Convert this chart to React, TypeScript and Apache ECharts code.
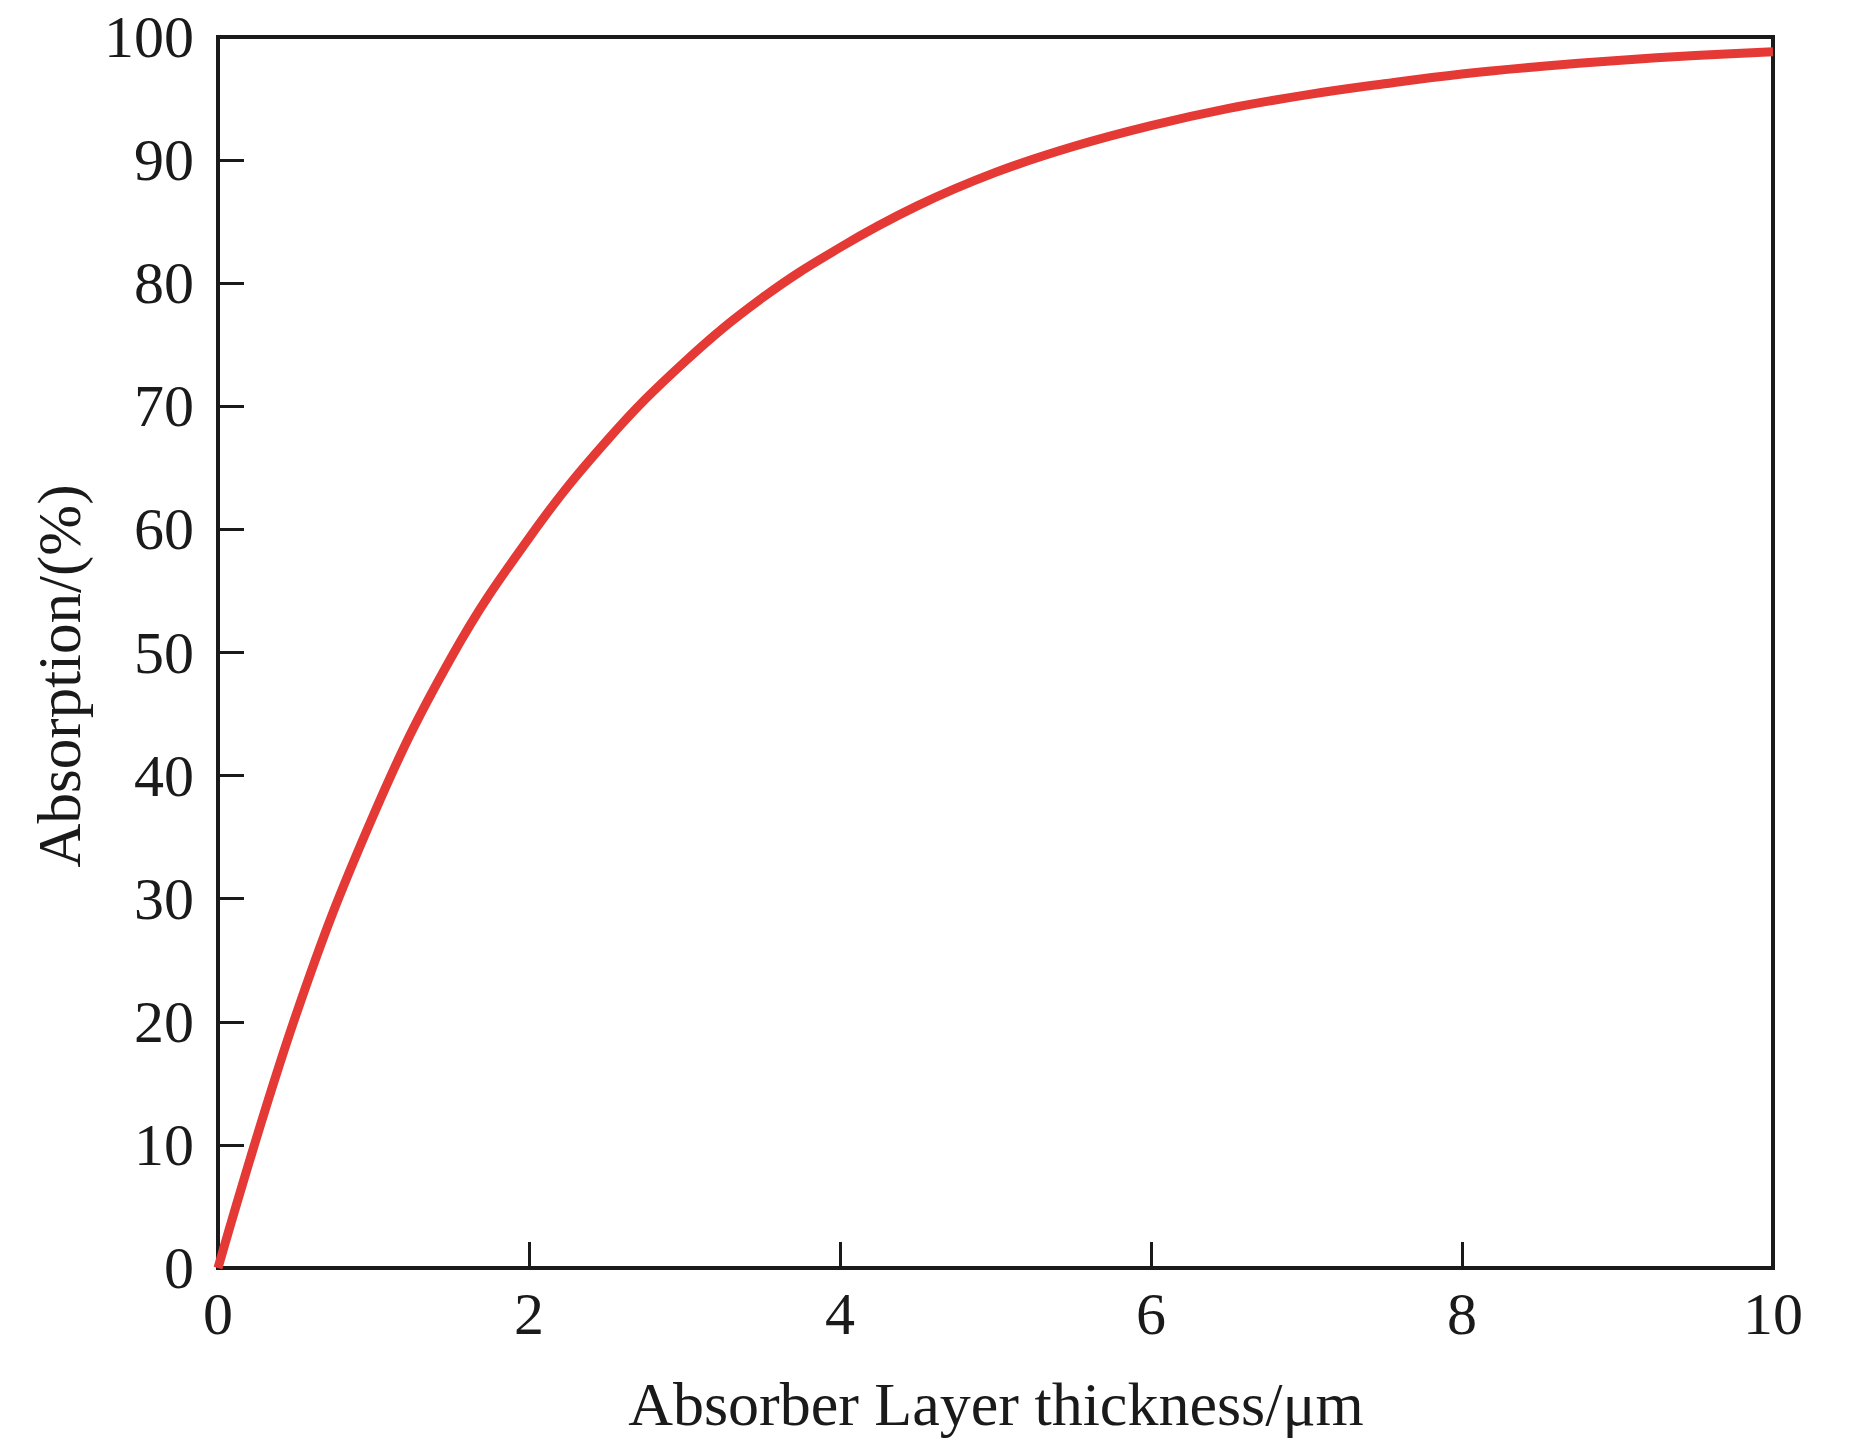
import React, { useEffect, useRef } from "react";
import * as echarts from "echarts";

const thickness = [0, 0.5, 1.0, 1.5, 2.0, 2.5, 3.0, 3.5, 4.0, 4.5, 5.0, 5.5, 6.0, 6.5, 7.0, 7.5, 8.0, 8.5, 9.0, 9.5, 10];
const absorption = [0, 20.5, 36.8, 49.6, 59.3, 67.2, 73.6, 78.8, 82.9, 86.3, 89.0, 91.1, 92.8, 94.2, 95.3, 96.2, 97.0, 97.6, 98.1, 98.5, 98.8];

const xTitle = "Absorber Layer thickness/μm";
const yTitle = "Absorption/(%)";

const FONT = "'Liberation Serif', 'Times New Roman', serif";
const INK = "#1a1a1a";

export default function App() {
  const ref = useRef<HTMLDivElement>(null);
  useEffect(() => {
    document.body.style.margin = "0";
    const chart = echarts.init(ref.current!, undefined, { renderer: "svg" });
    const data = thickness.map((x, i) => [x, absorption[i]]);
    chart.setOption({
      animation: false,
      backgroundColor: "#ffffff",
      grid: { left: 218, top: 37, right: 77, bottom: 177, show: true, borderColor: INK, borderWidth: 4, backgroundColor: "transparent" },
      xAxis: {
        type: "value",
        min: 0,
        max: 10,
        interval: 2,
        axisLine: { show: true, onZero: false, lineStyle: { color: INK, width: 4 } },
        axisTick: { show: true, inside: true, length: 26, lineStyle: { color: INK, width: 3 } },
        splitLine: { show: false },
        axisLabel: { color: INK, fontFamily: FONT, fontSize: 60, margin: 16 },
      },
      yAxis: {
        type: "value",
        min: 0,
        max: 100,
        interval: 10,
        axisLine: { show: true, onZero: false, lineStyle: { color: INK, width: 4 } },
        axisTick: { show: true, inside: true, length: 26, lineStyle: { color: INK, width: 3 } },
        splitLine: { show: false },
        axisLabel: { color: INK, fontFamily: FONT, fontSize: 60, margin: 24 },
      },
      graphic: [
        {
          type: "text",
          x: 996,
          y: 1404,
          style: { text: xTitle, font: `62px ${FONT}`, fill: INK, textAlign: "center", textVerticalAlign: "middle" },
        },
        {
          type: "text",
          x: 59,
          y: 676,
          rotation: Math.PI / 2,
          style: { text: yTitle, font: `61px ${FONT}`, fill: INK, textAlign: "center", textVerticalAlign: "middle" },
        },
      ],
      series: [
        {
          type: "line",
          data,
          smooth: 0.4,
          showSymbol: false,
          lineStyle: { color: "#e53935", width: 9 },
          clip: false,
        },
      ],
    });
    return () => chart.dispose();
  }, []);
  return <div ref={ref} style={{ width: 1850, height: 1445 }} />;
}
